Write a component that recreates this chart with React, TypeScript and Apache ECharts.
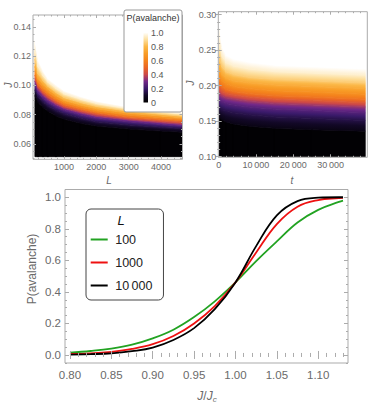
import React, { useEffect, useRef } from 'react';
import * as echarts from 'echarts';

// ---------------- data ----------------
// colour map (value 0 .. 1 in steps of 0.1)
const sunsetColors = ['#000000', '#120826', '#3a1a6a', '#722888', '#cc4848', '#ea6624', '#f4831c', '#f89c26', '#fbb848', '#fde0a0', '#ffffff'];
// contour levels of P(avalanche) read in the two density plots
const contourLevels = [0.05, 0.15, 0.25, 0.35, 0.45, 0.55, 0.65, 0.75, 0.85, 0.95];

// left panel: J at each contour level, one row per L
const leftL = [100, 200, 350, 500, 750, 1000, 1500, 2000, 3000, 4000, 4660];
const leftJ = [
  [0.0930, 0.0970, 0.1000, 0.1030, 0.1050, 0.1070, 0.1100, 0.1130, 0.1180, 0.1250],
  [0.0885, 0.0925, 0.0952, 0.0975, 0.0992, 0.1008, 0.1028, 0.1052, 0.1085, 0.1135],
  [0.0850, 0.0890, 0.0915, 0.0937, 0.0953, 0.0968, 0.0988, 0.1010, 0.1037, 0.1073],
  [0.0825, 0.0862, 0.0888, 0.0908, 0.0925, 0.0940, 0.0958, 0.0978, 0.0998, 0.1026],
  [0.0792, 0.0830, 0.0855, 0.0872, 0.0887, 0.0900, 0.0917, 0.0935, 0.0955, 0.0983],
  [0.0770, 0.0806, 0.0830, 0.0845, 0.0858, 0.0870, 0.0885, 0.0900, 0.0920, 0.0945],
  [0.0742, 0.0775, 0.0800, 0.0815, 0.0828, 0.0840, 0.0854, 0.0868, 0.0886, 0.0908],
  [0.0722, 0.0752, 0.0775, 0.0790, 0.0805, 0.0815, 0.0828, 0.0842, 0.0858, 0.0878],
  [0.0702, 0.0730, 0.0752, 0.0765, 0.0775, 0.0785, 0.0798, 0.0812, 0.0825, 0.0840],
  [0.0688, 0.0714, 0.0733, 0.0746, 0.0758, 0.0769, 0.0780, 0.0792, 0.0804, 0.0819],
  [0.0680, 0.0705, 0.0722, 0.0735, 0.0748, 0.0760, 0.0770, 0.0780, 0.0791, 0.0806],
];

// right panel: J at each contour level, one row per t
const rightT = [200, 500, 1000, 2000, 4000, 8000, 15000, 25000, 39300];
const rightJ = [
  [0.156, 0.170, 0.180, 0.189, 0.197, 0.205, 0.214, 0.225, 0.240, 0.265],
  [0.154, 0.168, 0.178, 0.187, 0.195, 0.202, 0.211, 0.221, 0.234, 0.253],
  [0.152, 0.166, 0.177, 0.185, 0.192, 0.199, 0.207, 0.216, 0.227, 0.242],
  [0.149, 0.164, 0.175, 0.183, 0.189, 0.195, 0.203, 0.211, 0.220, 0.233],
  [0.146, 0.162, 0.173, 0.181, 0.187, 0.192, 0.199, 0.207, 0.216, 0.228],
  [0.143, 0.159, 0.170, 0.178, 0.184, 0.189, 0.196, 0.204, 0.212, 0.224],
  [0.140, 0.156, 0.167, 0.175, 0.181, 0.186, 0.193, 0.201, 0.209, 0.220],
  [0.138, 0.154, 0.165, 0.173, 0.179, 0.184, 0.191, 0.199, 0.207, 0.218],
  [0.136, 0.151, 0.162, 0.170, 0.176, 0.181, 0.188, 0.196, 0.204, 0.215],
];

// bottom panel: P(avalanche) vs J/Jc
const ratio = [0.80, 0.825, 0.85, 0.875, 0.90, 0.925, 0.95, 0.975, 1.00, 1.025, 1.05, 1.075, 1.10, 1.125, 1.13];
const pL100 = [0.015, 0.025, 0.040, 0.065, 0.105, 0.160, 0.240, 0.340, 0.460, 0.595, 0.720, 0.840, 0.920, 0.970, 0.978];
const pL1000 = [0.006, 0.010, 0.020, 0.038, 0.068, 0.120, 0.200, 0.310, 0.460, 0.650, 0.830, 0.940, 0.982, 0.995, 0.996];
const pL10000 = [0.002, 0.005, 0.010, 0.024, 0.047, 0.095, 0.170, 0.290, 0.460, 0.690, 0.885, 0.975, 0.997, 1.000, 1.000];
const seriesNames = ['100', '1000', '10\u2009000'];
const seriesColors = ['#22a322', '#ee1111', '#000000'];

// tick labels
const leftXTicks = [1000, 2000, 3000, 4000];
const leftYTicks = [0.06, 0.08, 0.10, 0.12, 0.14];
const rightXTicks = [0, 10000, 20000, 30000];
const rightYTicks = [0.10, 0.15, 0.20, 0.25, 0.30];
const botXTicks = [0.80, 0.85, 0.90, 0.95, 1.00, 1.05, 1.10];
const botYTicks = [0.0, 0.2, 0.4, 0.6, 0.8, 1.0];
const colorbarTicks = [0, 0.2, 0.4, 0.6, 0.8, 1.0];

// ---------------- helpers ----------------
const FONT = '"Liberation Sans", Arial, sans-serif';
const LABEL = '#6a6a6a';
const FRAME = '#ababab';

function hexRgb(h: string) {
  return [parseInt(h.slice(1, 3), 16), parseInt(h.slice(3, 5), 16), parseInt(h.slice(5, 7), 16)];
}
function colorAt(p: number) {
  const q = Math.max(0, Math.min(1, p)) * (sunsetColors.length - 1);
  const i = Math.min(sunsetColors.length - 2, Math.floor(q));
  const t = q - i;
  const a = hexRgb(sunsetColors[i]);
  const b = hexRgb(sunsetColors[i + 1]);
  const c = a.map((v, j) => Math.round(v + (b[j] - v) * t));
  return `rgb(${c[0]},${c[1]},${c[2]})`;
}

function minorTicks(min: number, max: number, step: number, majors: number[]) {
  const out: number[] = [];
  const n0 = Math.ceil(min / step - 1e-9);
  const n1 = Math.floor(max / step + 1e-9);
  for (let n = n0; n <= n1; n++) {
    const v = +(n * step).toFixed(8);
    if (!majors.some((m) => Math.abs(m - v) < step * 1e-3)) out.push(v);
  }
  return out;
}

function frameAxes(
  dim: 'x' | 'y', grid: number, min: number, max: number, majors: number[], minorStep: number,
  fmt: (v: number) => string, fontSize: number, margin: number, majorLen: number,
) {
  const pos = dim === 'x' ? ['bottom', 'top'] : ['left', 'right'];
  const minors = minorTicks(min, max, minorStep, majors);
  const base = {
    type: 'value', gridIndex: grid, min, max, z: 4,
    splitLine: { show: false }, axisLine: { show: false },
  };
  const tick = (vals: number[], len: number) => ({
    show: true, inside: true, length: len, customValues: vals, lineStyle: { color: FRAME, width: 1 },
  });
  const main = {
    ...base, position: pos[0],
    axisLabel: { show: true, customValues: majors, formatter: fmt, fontSize, color: LABEL, margin, fontFamily: FONT },
    axisTick: tick(majors, majorLen),
  };
  const extras = [
    { ...base, position: pos[0], axisLabel: { show: false }, axisTick: tick(minors, majorLen / 2) },
    { ...base, position: pos[1], axisLabel: { show: false }, axisTick: tick(majors, majorLen) },
    { ...base, position: pos[1], axisLabel: { show: false }, axisTick: tick(minors, majorLen / 2) },
  ];
  return { main, extras };
}

// density plot drawn as strips between read columns; each band between two contour
// lines is shaded with the colour map across the band
function densitySeries(grid: number, xs: number[], cols: number[][], origin: number) {
  const items = xs.slice(0, -1).map((x, i) => [x, xs[i + 1], i, origin]);
  const nL = contourLevels.length;
  return {
    type: 'custom', xAxisIndex: grid, yAxisIndex: grid, silent: true, z: 2, clip: true,
    encode: { x: [0, 1], y: 3 },
    data: items,
    renderItem: (_params: any, api: any) => {
      const x0 = api.value(0);
      const x1 = api.value(1);
      const i = api.value(2);
      const c0 = cols[i];
      const c1 = cols[i + 1];
      const last = i === xs.length - 2;
      const first = i === 0;
      const children: any[] = [];
      // widen each strip a little so neighbouring strips overlap (no seams)
      const widen = (p: number[], side: number) => [p[0] + side * ((side < 0 && first) || (side > 0 && last) ? 0 : 0.6), p[1]];
      const band = (A0: number[], A1: number[], B0: number[], B1: number[], pLo: number, pHi: number) => {
        let dx = (A1[0] - A0[0]) + (B1[0] - B0[0]);
        let dy = (A1[1] - A0[1]) + (B1[1] - B0[1]);
        const len = Math.hypot(dx, dy) || 1;
        dx /= len; dy /= len;
        const nx = -dy;
        const ny = dx;
        const MA = [(A0[0] + A1[0]) / 2, (A0[1] + A1[1]) / 2];
        const MB = [(B0[0] + B1[0]) / 2, (B0[1] + B1[1]) / 2];
        const d = (MB[0] - MA[0]) * nx + (MB[1] - MA[1]) * ny;
        const stops = [0, 0.25, 0.5, 0.75, 1].map((s) => ({ offset: s, color: colorAt(pLo + (pHi - pLo) * s) }));
        const grad = new echarts.graphic.LinearGradient(MA[0], MA[1], MA[0] + nx * d, MA[1] + ny * d, stops, true);
        children.push({
          type: 'polygon',
          shape: { points: [widen(A0, -1), widen(A1, 1), widen(B1, 1), widen(B0, -1)] },
          style: { fill: grad, stroke: grad, lineWidth: 0.8 },
        });
      };
      // below the lowest contour
      const o0 = api.coord([x0, origin]);
      const o1 = api.coord([x1, origin]);
      const a0 = api.coord([x0, c0[0]]);
      const a1 = api.coord([x1, c1[0]]);
      children.push({
        type: 'polygon',
        shape: { points: [widen(o0, -1), widen(o1, 1), widen(a1, 1), widen(a0, -1)] },
        style: { fill: colorAt(0.01), stroke: colorAt(0.01), lineWidth: 0.8 },
      });
      for (let k = 0; k < nL - 1; k++) {
        band(
          api.coord([x0, c0[k]]), api.coord([x1, c1[k]]),
          api.coord([x0, c0[k + 1]]), api.coord([x1, c1[k + 1]]),
          contourLevels[k], contourLevels[k + 1],
        );
      }
      // fade above the highest contour into white
      const T0 = api.coord([x0, c0[nL - 1]]);
      const T1 = api.coord([x1, c1[nL - 1]]);
      const g0 = T0[1] - api.coord([x0, c0[nL - 2]])[1];
      const g1 = T1[1] - api.coord([x1, c1[nL - 2]])[1];
      band(T0, T1, [T0[0], T0[1] + g0 * 0.8], [T1[0], T1[1] + g1 * 0.8], contourLevels[nL - 1], 1);
      return { type: 'group', children };
    },
  };
}

const groupThousands = (v: number) => (v >= 10000 ? String(v).replace(/(\d)(?=(\d{3})+$)/g, '$1\u2009') : String(v));

export default function App() {
  const ref = useRef<HTMLDivElement>(null);
  useEffect(() => {
    if (!ref.current) return;
    const chart = echarts.init(ref.current, undefined, { renderer: 'svg' });

    const lx = frameAxes('x', 0, 41, 4665, leftXTicks, 200, (v) => String(v), 9, 3, 3);
    const ly = frameAxes('y', 0, 0.0495, 0.1482, leftYTicks, 0.005, (v) => v.toFixed(2), 9, 2, 3);
    const rx = frameAxes('x', 1, -100, 39850, rightXTicks, 2000, groupThousands, 9, 3, 3);
    const ry = frameAxes('y', 1, 0.0992, 0.3042, rightYTicks, 0.01, (v) => v.toFixed(2), 9, 2, 3);
    const bx = frameAxes('x', 2, 0.794, 1.136, botXTicks, 0.01, (v) => v.toFixed(2), 11.5, 6, 4);
    const by = frameAxes('y', 2, -0.051, 1.049, botYTicks, 0.05, (v) => v.toFixed(1), 11.5, 4, 4);

    const n = sunsetColors.length - 1;
    const gradStops = sunsetColors.map((_, i) => ({ offset: i / n, color: sunsetColors[n - i] }));

    const option: any = {
      animation: false,
      backgroundColor: '#ffffff',
      textStyle: { fontFamily: FONT },
      grid: [
        { left: 33, top: 15, width: 149.5, height: 144.3, show: true, borderColor: FRAME, borderWidth: 1, backgroundColor: 'transparent', z: 3 },
        { left: 218.3, top: 11.7, width: 149, height: 145.6, show: true, borderColor: FRAME, borderWidth: 1, backgroundColor: 'transparent', z: 3 },
        { left: 65, top: 189.5, width: 283, height: 173.5, show: true, borderColor: FRAME, borderWidth: 1, backgroundColor: 'transparent', z: 3 },
        { left: 143.5, top: 32.5, width: 4.5, height: 70, z: 10 },
      ],
      xAxis: [
        lx.main, rx.main, bx.main,
        { type: 'category', gridIndex: 3, data: ['c'], show: false },
        ...lx.extras, ...rx.extras, ...bx.extras,
      ],
      yAxis: [
        ly.main, ry.main, by.main,
        {
          type: 'value', gridIndex: 3, min: 0, max: 1, position: 'right', z: 10,
          axisLine: { show: false }, axisTick: { show: false }, splitLine: { show: false },
          axisLabel: { customValues: colorbarTicks, formatter: (v: number) => (v === 0 ? '0' : v.toFixed(1)), fontSize: 9, color: '#555', margin: 3, fontFamily: FONT },
        },
        ...ly.extras, ...ry.extras, ...by.extras,
      ],
      legend: {
        data: seriesNames, orient: 'vertical', left: 86, top: 209,
        padding: [24, 11, 8, 4.7], itemWidth: 17, itemHeight: 2, itemGap: 10, icon: 'rect',
        borderColor: '#444', borderWidth: 1, borderRadius: 5, backgroundColor: '#fff',
        textStyle: { fontSize: 12.5, color: '#222', fontFamily: FONT, lineHeight: 10, padding: [0, 0, 0, 2.5] },
      },
      graphic: {
        elements: [
          { type: 'rect', z: 5, shape: { x: 124, y: 10, width: 58, height: 102, r: 2 }, style: { fill: '#fff', stroke: '#999', lineWidth: 1 } },
          { type: 'text', z: 6, x: 153, y: 18, style: { text: 'P(avalanche)', font: `9px ${FONT}`, fill: '#333', textAlign: 'center', textVerticalAlign: 'middle' } },
          { type: 'text', z: 6, x: 121, y: 220, style: { text: 'L', font: `italic 13px ${FONT}`, fill: '#111', textAlign: 'center', textVerticalAlign: 'middle' } },
          { type: 'text', x: 8.5, y: 85, rotation: Math.PI / 2, style: { text: 'J', font: `italic 10px ${FONT}`, fill: LABEL, textAlign: 'center', textVerticalAlign: 'middle' } },
          { type: 'text', x: 109, y: 180, style: { text: 'L', font: `italic 10px ${FONT}`, fill: LABEL, textAlign: 'center', textVerticalAlign: 'middle' } },
          { type: 'text', x: 190, y: 83, rotation: Math.PI / 2, style: { text: 'J', font: `italic 10px ${FONT}`, fill: LABEL, textAlign: 'center', textVerticalAlign: 'middle' } },
          { type: 'text', x: 292, y: 180, style: { text: 't', font: `italic 10px ${FONT}`, fill: LABEL, textAlign: 'center', textVerticalAlign: 'middle' } },
          { type: 'text', x: 32, y: 269, rotation: Math.PI / 2, style: { text: 'P(avalanche)', font: `12px ${FONT}`, fill: LABEL, textAlign: 'center', textVerticalAlign: 'middle' } },
          {
            type: 'text', x: 207, y: 396,
            style: {
              text: '{i|J}{n|/}{i|J}{s|c}', fill: LABEL, textAlign: 'center', textVerticalAlign: 'middle',
              rich: {
                i: { fontStyle: 'italic', fontSize: 12, fontFamily: FONT, fill: LABEL },
                n: { fontSize: 12, fontFamily: FONT, fill: LABEL },
                s: { fontStyle: 'italic', fontSize: 8, fontFamily: FONT, fill: LABEL, padding: [7, 0, 0, 0] },
              },
            },
          },
        ],
      },
      series: [
        densitySeries(0, leftL, leftJ, 0.0513),
        densitySeries(1, rightT, rightJ, 0.1),
        {
          type: 'bar', xAxisIndex: 3, yAxisIndex: 3, data: [1], barWidth: '100%', silent: true, z: 10,
          itemStyle: { color: new echarts.graphic.LinearGradient(0, 0, 0, 1, gradStops) },
        },
        ...[pL100, pL1000, pL10000].map((vals, i) => ({
          name: seriesNames[i], type: 'line', xAxisIndex: 2, yAxisIndex: 2,
          data: ratio.map((x, j) => [x, vals[j]]),
          smooth: 0.4, symbol: 'none', showSymbol: false,
          lineStyle: { width: 1.8, color: seriesColors[i] }, itemStyle: { color: seriesColors[i] },
          z: 3,
        })),
      ],
    };
    chart.setOption(option);
    return () => chart.dispose();
  }, []);
  return <div ref={ref} style={{ position: 'fixed', left: 0, top: 0, width: 374, height: 405 }} />;
}
